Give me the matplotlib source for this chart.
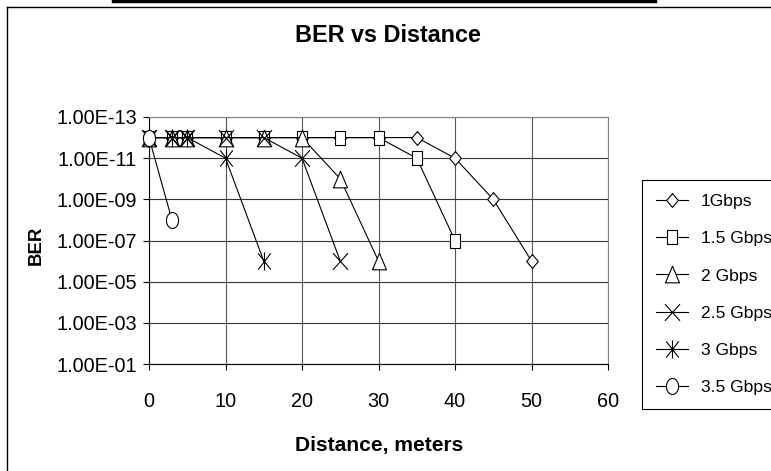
import numpy as np
import matplotlib
matplotlib.use('Agg')
import matplotlib.pyplot as plt
from matplotlib import font_manager
from matplotlib.path import Path
from matplotlib.lines import Line2D
from matplotlib.ticker import FixedLocator, FuncFormatter, NullLocator

# Dati
x_1g = [0, 3, 5, 10, 15, 20, 25, 30, 35, 40, 45, 50]
ber_1g = [1e-12, 1e-12, 1e-12, 1e-12, 1e-12, 1e-12, 1e-12, 1e-12, 1e-12, 1e-11, 1e-9, 1e-6]
x_15g = [0, 3, 5, 10, 15, 20, 25, 30, 35, 40]
ber_15g = [1e-12, 1e-12, 1e-12, 1e-12, 1e-12, 1e-12, 1e-12, 1e-12, 1e-11, 1e-7]
x_2g = [0, 3, 5, 10, 15, 20, 25, 30]
ber_2g = [1e-12, 1e-12, 1e-12, 1e-12, 1e-12, 1e-12, 1e-10, 1e-6]
x_25g = [0, 3, 5, 10, 15, 20, 25]
ber_25g = [1e-12, 1e-12, 1e-12, 1e-12, 1e-12, 1e-11, 1e-6]
x_3g = [0, 3, 5, 10, 15]
ber_3g = [1e-12, 1e-12, 1e-12, 1e-11, 1e-6]
x_35g = [0, 3]
ber_35g = [1e-12, 1e-8]

labels = ['1Gbps', '1.5 Gbps', '2 Gbps', '2.5 Gbps', '3 Gbps', '3.5 Gbps']
y_ticks = [1e-13, 1e-11, 1e-9, 1e-7, 1e-5, 1e-3, 1e-1]
x_ticks = [0, 10, 20, 30, 40, 50, 60]

# Font stretto tipo Arial Narrow se disponibile
avail = {f.name for f in font_manager.fontManager.ttflist}
if 'Liberation Sans Narrow' in avail:
    fam, k = 'Liberation Sans Narrow', 1.0
else:
    fam, k = 'Liberation Sans', 0.84
plt.rcParams['font.family'] = [fam, 'DejaVu Sans']

W, H = 771, 471
def fx(px):
    return px / W
def fy(py):
    return 1 - py / H

# Marker in stile Excel (leggermente allungati in verticale)
diamond = Path([(0, 0.5), (0.42, 0), (0, -0.5), (-0.42, 0), (0, 0.5)])
square = Path([(-0.38, -0.5), (0.38, -0.5), (0.38, 0.5), (-0.38, 0.5), (-0.38, -0.5)])
triangle = Path([(-0.42, -0.5), (0.42, -0.5), (0, 0.5), (-0.42, -0.5)])
cross = Path([(-0.45, -0.5), (0.45, 0.5), (-0.45, 0.5), (0.45, -0.5)],
             [Path.MOVETO, Path.LINETO, Path.MOVETO, Path.LINETO])
star = Path([(-0.35, -0.45), (0.35, 0.45), (-0.35, 0.45), (0.35, -0.45), (0, -0.5), (0, 0.5)],
            [Path.MOVETO, Path.LINETO, Path.MOVETO, Path.LINETO, Path.MOVETO, Path.LINETO])
t = np.linspace(0, 2 * np.pi, 40)
ellipse = Path(np.column_stack([0.38 * np.cos(t), 0.5 * np.sin(t)]))

series = [
    (x_1g, ber_1g, diamond, 10),
    (x_15g, ber_15g, square, 9.5),
    (x_2g, ber_2g, triangle, 12),
    (x_25g, ber_25g, cross, 12),
    (x_3g, ber_3g, star, 13),
    (x_35g, ber_35g, ellipse, 11.5),
]

fig = plt.figure(figsize=(7.71, 4.71), dpi=100)
ax = fig.add_axes([fx(149), fy(364), (608 - 149) / W, (364 - 117) / H])

handles = []
for (xs, ys, mk, ms), lab in zip(series, labels):
    ax.plot(xs, ys, color='black', lw=0.8, marker=mk, markersize=ms,
            markerfacecolor='white', markeredgecolor='black', markeredgewidth=0.8,
            clip_on=False, zorder=3)
    handles.append(Line2D([0], [0], color='black', lw=0.8, marker=mk, markersize=ms,
                          markerfacecolor='white', markeredgecolor='black',
                          markeredgewidth=0.8))

ax.set_yscale('log')
ax.set_ylim(1e-1, 1e-13)
ax.set_xlim(0, 60)
ax.yaxis.set_major_locator(FixedLocator(y_ticks))
ax.yaxis.set_minor_locator(NullLocator())
ax.yaxis.set_major_formatter(FuncFormatter(lambda v, p: '1.00E-%02d' % round(-np.log10(v))))
ax.set_xticks(x_ticks)

ax.grid(True, axis='y', color='#333333', lw=0.8)
ax.grid(True, axis='x', color='#555555', lw=0.8)
ax.set_axisbelow(True)

ax.tick_params(axis='y', direction='out', length=4.5, width=0.8, pad=4, labelsize=17 * k)
ax.tick_params(axis='x', direction='out', length=4.5, width=0.8, pad=16, labelsize=17 * k)
ax.spines['left'].set_color('black')
ax.spines['bottom'].set_color('black')
ax.spines['top'].set_color('#808080')
ax.spines['right'].set_color('#808080')
for s in ax.spines.values():
    s.set_linewidth(0.8)

# Titolo ed etichette
fig.text(fx(388), fy(35), 'BER vs Distance', ha='center', va='center',
         fontsize=20 * k, fontweight='bold')
fig.text(fx(379), fy(446), 'Distance, meters', ha='center', va='center',
         fontsize=18 * k, fontweight='bold')
fig.text(fx(36), fy(245), 'BER', ha='center', va='center', rotation=90,
         fontsize=16 * k, fontweight='bold')

# Legenda
leg = fig.legend(handles, labels, loc='upper left', bbox_to_anchor=(fx(642), fy(180)),
                 frameon=True, fancybox=False, edgecolor='black', framealpha=1,
                 fontsize=15 * k, labelspacing=1.25, handlelength=1.85,
                 handletextpad=0.7, borderpad=0.8, borderaxespad=0)
leg.get_frame().set_linewidth(0.8)

# Bordo del riquadro e barra in alto
fig.add_artist(Line2D([fx(7), fx(7)], [fy(7), 0], color='black', lw=1))
fig.add_artist(Line2D([fx(7), 1], [fy(7), fy(7)], color='black', lw=1))
fig.add_artist(Line2D([fx(113), fx(655)], [fy(1), fy(1)], color='black', lw=2.5))

fig.savefig('out.png', dpi=100)
plt.close(fig)
